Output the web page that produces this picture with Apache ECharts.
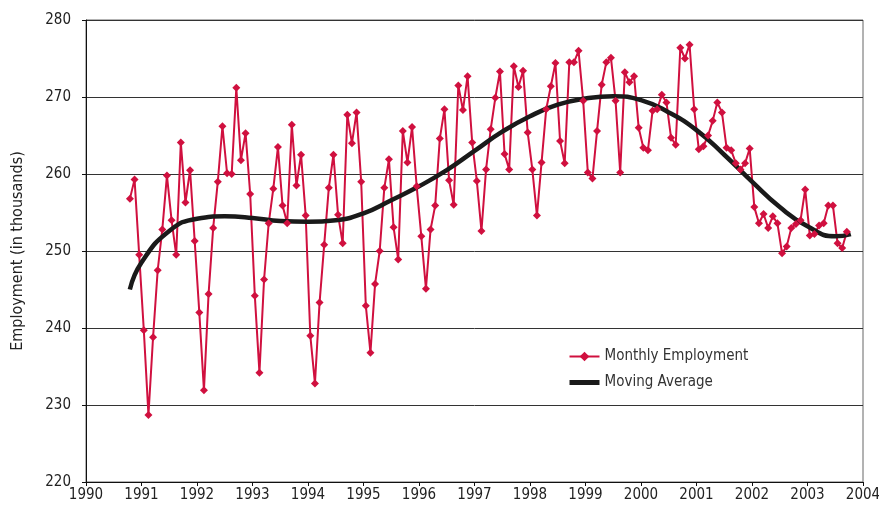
<!DOCTYPE html>
<html>
<head>
<meta charset="utf-8">
<script src="https://cdn.jsdelivr.net/npm/echarts@6/dist/echarts.min.js"></script>
<style>
  html, body { margin: 0; padding: 0; background: #fff; }
  #chart { width: 879px; height: 505px; }
</style>
</head>
<body>
<div id="chart"></div>
<script>
// monthly data starts Oct 1990, one value per month
var startYear = 1990;
var startMonth = 10;
var monthly = [
  256.8, 259.3, 249.5, 239.7, 228.7, 238.8, 247.5, 252.8, 259.8, 254.0,
  249.5, 264.1, 256.3, 260.5, 251.3, 242.0, 231.9, 244.4, 253.0, 259.0,
  266.2, 260.1, 260.0, 271.2, 261.8, 265.3, 257.4, 244.2, 234.2, 246.3,
  253.6, 258.1, 263.5, 255.9, 253.6, 266.4, 258.5, 262.5, 254.6, 239.0,
  232.8, 243.3, 250.8, 258.2, 262.5, 254.7, 251.0, 267.7, 264.0, 268.0,
  259.0, 242.9, 236.8, 245.7, 250.0, 258.2, 261.9, 253.1, 248.9, 265.6,
  261.5, 266.1, 258.4, 251.9, 245.1, 252.8, 255.9, 264.6, 268.4, 259.2,
  256.0, 271.5, 268.3, 272.7, 264.1, 259.1, 252.6, 260.6, 265.8, 269.9,
  273.3, 262.6, 260.6, 274.0, 271.3, 273.4, 265.4, 260.6, 254.6, 261.5,
  268.4, 271.4, 274.4, 264.3, 261.4, 274.5, 274.5, 276.0, 269.5, 260.2,
  259.4, 265.6, 271.6, 274.5, 275.1, 269.5, 260.2, 273.2, 271.9, 272.7,
  266.0, 263.4, 263.1, 268.2, 268.4, 270.3, 269.3, 264.7, 263.8, 276.4,
  275.0, 276.8, 268.4, 263.2, 263.6, 265.0, 266.9, 269.3, 268.0, 263.4,
  263.1, 261.4, 260.6, 261.4, 263.3, 255.7, 253.6, 254.8, 253.0, 254.5,
  253.6, 249.7, 250.6, 253.0, 253.5, 254.0, 258.0, 252.0, 252.2, 253.3,
  253.6, 255.9, 255.9, 251.0, 250.4, 252.5
];

// moving average
var maYears = [
  1990.79, 1991.0, 1991.5, 1992.0, 1992.5, 1993.0, 1993.5, 1994.0, 1994.5,
  1995.0, 1995.5, 1996.0, 1996.5, 1997.0, 1997.5, 1998.0, 1998.5, 1999.0,
  1999.5, 2000.0, 2000.5, 2001.0, 2001.5, 2002.0, 2002.5, 2003.0, 2003.5, 2003.78
];
var maValues = [
  245.0, 248.5, 252.6, 254.2, 254.5, 254.3, 253.9, 253.8, 254.0,
  254.9, 256.6, 258.4, 260.5, 263.0, 265.5, 267.5, 269.0, 269.8,
  270.1, 269.6, 268.0, 265.7, 262.5, 259.0, 255.7, 253.2, 251.9, 252.2
];

var font = "'DejaVu Sans Condensed', 'Liberation Sans', sans-serif";

var monthlyData = monthly.map(function(v, i) {
  return [startYear + (startMonth - 1 + i + 0.5) / 12, v];
});
var maData = maYears.map(function(x, i) {
  return [x, maValues[i]];
});

var chart = echarts.init(document.getElementById('chart'));
chart.setOption({
  animation: false,
  grid: {
    left: 86, right: 16, top: 20, bottom: 23,
    outerBoundsMode: 'none',
    containLabel: false,
    show: true, borderColor: '#666', borderWidth: 1
  },
  legend: {
    orient: 'vertical',
    left: 562, top: 344,
    itemWidth: 30, itemHeight: 12, itemGap: 11,
    textStyle: { fontFamily: font, fontSize: 15, color: '#333' },
    data: [
      { name: 'Monthly Employment' },
      { name: 'Moving Average', itemStyle: { opacity: 0 }, lineStyle: { width: 5 } }
    ]
  },
  xAxis: {
    type: 'value',
    min: 1990, max: 2004, interval: 1,
    axisLine: { lineStyle: { color: '#111', width: 1 } },
    axisTick: { show: true, length: 4, lineStyle: { color: '#111' } },
    axisLabel: {
      fontFamily: font, fontSize: 15, color: '#222', margin: 6,
      formatter: function(v) { return String(v); }
    },
    splitLine: { show: false }
  },
  yAxis: {
    type: 'value',
    min: 220, max: 280, interval: 10,
    name: 'Employment (in thousands)',
    nameLocation: 'middle', nameRotate: 90, nameGap: 60,
    nameTextStyle: { fontFamily: font, fontSize: 16, color: '#222' },
    axisLine: { show: true, lineStyle: { color: '#111', width: 1 } },
    axisTick: { show: true, length: 4, lineStyle: { color: '#111' } },
    axisLabel: { fontFamily: font, fontSize: 15, color: '#222', margin: 15 },
    splitLine: { show: true, lineStyle: { color: '#333', width: 1 } }
  },
  series: [
    {
      name: 'Monthly Employment',
      type: 'line',
      data: monthlyData,
      symbol: 'diamond',
      symbolSize: 8,
      showAllSymbol: true,
      color: '#D0103F',
      lineStyle: { color: '#D0103F', width: 2 },
      itemStyle: { color: '#D0103F' }
    },
    {
      name: 'Moving Average',
      type: 'line',
      data: maData,
      smooth: true,
      symbol: 'none',
      color: '#1a1a1a',
      lineStyle: { color: '#1a1a1a', width: 4.5 }
    }
  ]
});
</script>
</body>
</html>
